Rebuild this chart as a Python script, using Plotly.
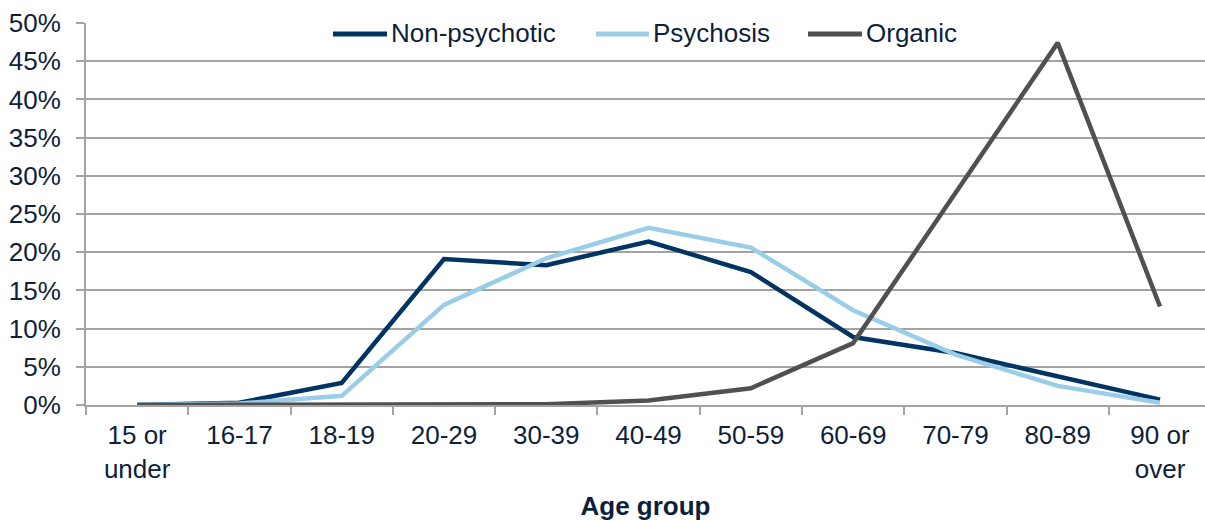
import plotly.graph_objects as go

# Age bands on the category axis
age_groups = ["15 or<br>under", "16-17", "18-19", "20-29", "30-39", "40-49",
              "50-59", "60-69", "70-79", "80-89", "90 or<br>over"]

# Share of each diagnosis group by age band (%)
non_psychotic = [0.0, 0.3, 2.9, 19.1, 18.3, 21.4, 17.4, 8.9, 6.8, 3.8, 0.7]
psychosis = [0.0, 0.2, 1.2, 13.1, 19.2, 23.2, 20.6, 12.4, 6.6, 2.5, 0.3]
organic = [0.0, 0.0, 0.0, 0.1, 0.1, 0.6, 2.2, 8.1, 27.8, 47.4, 12.9]

series = [
    ("Non-psychotic", non_psychotic, "#003463"),
    ("Psychosis", psychosis, "#9acde8"),
    ("Organic", organic, "#505050"),
]

TEXT = "#0d1f3a"
GRID = "#a3a3a3"
FONT = "Liberation Sans, Arial, sans-serif"
SIZE = 26

fig = go.Figure()
for name, values, color in series:
    fig.add_trace(go.Scatter(
        x=age_groups, y=values, name=name, mode="lines",
        line=dict(color=color, width=4.5),
        showlegend=False,
    ))

# Legend panel drawn above the gridlines, below the data lines
fig.add_shape(type="rect", xref="paper", yref="paper",
              x0=0.1877, x1=0.8105, y0=0.875, y1=1.04,
              fillcolor="white", line=dict(width=0), layer="between")

legend_pos = [(0.2207, 0.2690), (0.4557, 0.5031), (0.6452, 0.6935)]
for (name, _, color), (xa, xb) in zip(series, legend_pos):
    fig.add_shape(type="line", xref="paper", yref="paper",
                  x0=xa, x1=xb, y0=0.971, y1=0.971,
                  line=dict(color=color, width=5), layer="above")
    fig.add_annotation(xref="paper", yref="paper", x=xb + 0.002, y=0.974,
                       xanchor="left", yanchor="middle", showarrow=False,
                       text=name, font=dict(size=SIZE, color=TEXT, family=FONT))

fig.update_layout(
    width=1205, height=521,
    margin=dict(l=86, r=0, t=23, b=116),
    paper_bgcolor="white", plot_bgcolor="white",
    font=dict(family=FONT, size=SIZE, color=TEXT),
    showlegend=False,
)

fig.update_xaxes(
    type="category", range=[-0.5, 10.44],
    tickson="boundaries", ticks="outside", ticklen=8, tickwidth=2,
    tickcolor=GRID, showline=True, linecolor=GRID, linewidth=2,
    showgrid=False, tickfont=dict(size=SIZE, color=TEXT),
    ticklabelstandoff=6,
    title=dict(text="<b>Age group</b>", font=dict(size=SIZE, color=TEXT), standoff=16),
)

fig.update_yaxes(
    range=[0, 50], tickvals=list(range(0, 51, 5)),
    ticktext=[f"{v}%" for v in range(0, 51, 5)],
    ticks="outside", ticklen=8, tickwidth=2, tickcolor=GRID,
    showline=True, linecolor=GRID, linewidth=2,
    showgrid=True, gridcolor=GRID, gridwidth=2,
    zeroline=False, tickfont=dict(size=SIZE, color=TEXT),
    ticklabelstandoff=10,
)

fig.write_html("out.html")
